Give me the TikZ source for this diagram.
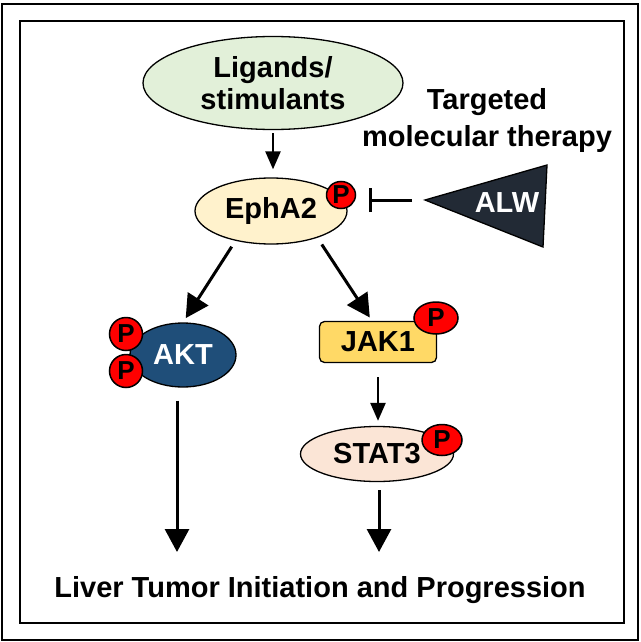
\documentclass[tikz,border=0pt]{standalone}
\usepackage{fontspec}
\setmainfont{Liberation Sans}
\usetikzlibrary{shapes.geometric,arrows.meta}

\definecolor{ligandgreen}{HTML}{E2F0D9}
\definecolor{ephcream}{HTML}{FFF2CC}
\definecolor{aktblue}{HTML}{1F4E79}
\definecolor{jakgold}{HTML}{FFD966}
\definecolor{statpeach}{HTML}{FBE5D6}
\definecolor{alwnavy}{HTML}{222A35}

\begin{document}
\begin{tikzpicture}[
    x=1pt, y=-1pt,
    big text/.style={font=\bfseries\fontsize{29}{32}\selectfont},
    oval node/.style={ellipse, draw=black, line width=1.3pt, inner sep=0pt, big text},
    box node/.style={rectangle, rounded corners=5pt, draw=black, line width=1.3pt, inner sep=0pt, big text},
    p node/.style={ellipse, draw=black, line width=1.5pt, fill=red, inner sep=0pt, font=\bfseries\fontsize{26}{26}\selectfont},
    main edge/.style={line width=3pt, -{Triangle[width=24pt,length=23pt]}},
    short edge/.style={line width=2.5pt, -{Triangle[width=15pt,length=18pt]}},
    inhib edge/.style={line width=3pt, -{Bar[width=24pt,line width=3pt]}}
]
\useasboundingbox (0,0) rectangle (640,642);

% double frame
\draw[line width=2pt] (2,4) rectangle (638,640);
\draw[line width=2pt] (20,21) rectangle (624,623);

% signalling proteins
\node[oval node, fill=ligandgreen, minimum width=260pt, minimum height=93pt, align=center] (lig) at (273,83) {Ligands/\\stimulants};
\node[oval node, fill=ephcream, minimum width=152pt, minimum height=66pt] (eph) at (271,211) {EphA2};
\node[oval node, fill=aktblue, text=white, minimum width=106pt, minimum height=64pt] (akt) at (183,355) {AKT};
\node[box node, fill=jakgold, minimum width=117pt, minimum height=41pt] (jak) at (378,342) {JAK1};
\node[oval node, fill=statpeach, minimum width=153pt, minimum height=55pt] (stat) at (377,454) {STAT3};

% phosphorylation marks
\node[p node, minimum width=29pt, minimum height=27pt] (pE)  at (341,195) {P};
\node[p node, minimum width=33pt, minimum height=33pt] (pA1) at (126,334) {P};
\node[p node, minimum width=33pt, minimum height=33pt] (pA2) at (126,371) {P};
\node[p node, minimum width=44pt, minimum height=32pt] (pJ)  at (436,318) {P};
\node[p node, minimum width=40pt, minimum height=31pt] (pS)  at (442,440) {P};

% inhibitor
\coordinate (alwtip) at (425,200);
\fill[alwnavy, draw=black, line width=1.3pt] (alwtip) -- (547,165) -- (543,247) -- cycle;
\node[big text, text=white] (alw) at (507,203) {ALW};
\node[big text, align=center, font=\bfseries\fontsize{29}{37}\selectfont] (ther) at (487,121) {Targeted\\molecular therapy};

% outcome
\node[big text, anchor=base] (out) at (320,597) {Liver Tumor Initiation and Progression};
\coordinate (aktend) at (177,552);
\coordinate (statend) at (379,552);

% edges
\draw[short edge, shorten <=3pt, shorten >=8pt] (lig.south) -- (lig.south |- eph.north);
\draw[inhib edge, shorten <=13pt, shorten >=13pt] (alwtip) -- (alwtip -| pE.east);
\draw[main edge, shorten <=7pt, shorten >=5pt] (eph.-140) -- (akt.north);
\draw[main edge, shorten <=8pt, shorten >=4pt] (eph.-30) -- ([xshift=-6pt]jak.north);
\draw[short edge, shorten <=14pt, shorten >=5pt] (jak.south) -- (jak.south |- stat.north);
\draw[main edge, shorten <=13pt] (aktend |- akt.south) -- (aktend);
\draw[main edge, shorten <=8pt] (statend |- stat.south) -- (statend);

\end{tikzpicture}
\end{document}
